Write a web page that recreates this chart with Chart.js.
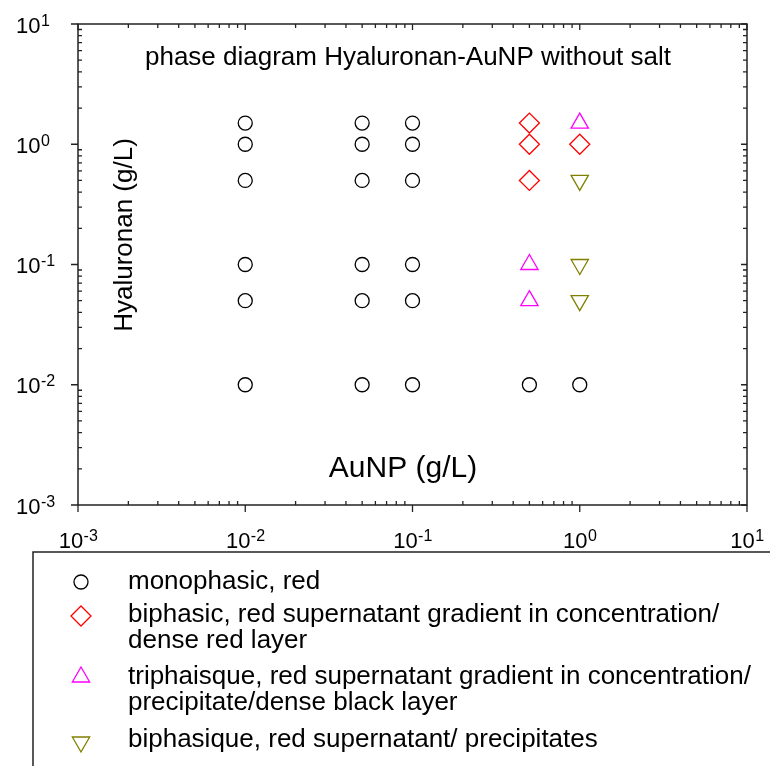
<!DOCTYPE html>
<html>
<head>
<meta charset="utf-8">
<script src="https://cdn.jsdelivr.net/npm/chart.js@4/dist/chart.umd.min.js"></script>
<style>
html,body{margin:0;padding:0;background:#fff;}
#wrap{width:770px;height:766px;position:relative;}
canvas{display:block;}
</style>
</head>
<body>
<div id="wrap"><canvas id="c" width="770" height="766"></canvas></div>
<script>
// ---- data (g/L) ----
const monophasicX = [0.01,0.01,0.01,0.01,0.01,0.01, 0.05,0.05,0.05,0.05,0.05,0.05, 0.1,0.1,0.1,0.1,0.1,0.1, 0.5, 1];
const monophasicY = [1.5,1,0.5,0.1,0.05,0.01, 1.5,1,0.5,0.1,0.05,0.01, 1.5,1,0.5,0.1,0.05,0.01, 0.01, 0.01];
const biphasicX = [0.5,0.5,0.5,1];
const biphasicY = [1.5,1,0.5,1];
const triphasicX = [1,0.5,0.5];
const triphasicY = [1.5,0.1,0.05];
const precipX = [1,1,1];
const precipY = [0.5,0.1,0.05];
const decadeExponents = ['-3','-2','-1','0','1'];
const legendLabels = [
  ['monophasic, red'],
  ['biphasic, red supernatant gradient in concentration/','dense red layer'],
  ['triphaisque, red supernatant gradient in concentration/','precipitate/dense black layer'],
  ['biphasique, red supernatant/ precipitates']
];
const chartTitle = 'phase diagram Hyaluronan-AuNP without salt';
const xTitle = 'AuNP (g/L)';
const yTitle = 'Hyaluronan (g/L)';

const zip = (xs, ys) => xs.map((x, i) => ({x: x, y: ys[i]}));
const FONT = '"Liberation Sans", Arial, sans-serif';

const styles = [
  {pointStyle:'circle', radius:7, rotation:0, color:'#000000'},
  {pointStyle:'rectRot', radius:10, rotation:0, color:'#ff0000'},
  {pointStyle:'triangle', radius:10, rotation:0, color:'#ff00ff'},
  {pointStyle:'triangle', radius:10, rotation:180, color:'#808000'}
];
const series = [zip(monophasicX, monophasicY), zip(biphasicX, biphasicY), zip(triphasicX, triphasicY), zip(precipX, precipY)];

const datasets = series.map((d, i) => ({
  label: legendLabels[i].join(' '),
  data: d,
  pointStyle: styles[i].pointStyle,
  pointRadius: styles[i].radius,
  pointRotation: styles[i].rotation,
  pointBorderColor: styles[i].color,
  pointBackgroundColor: 'rgba(0,0,0,0)',
  pointBorderWidth: 1.3,
  showLine: false,
  clip: false
}));

function drawPow(ctx, exp, x, y, align) {
  ctx.font = '22px ' + FONT;
  const wb = ctx.measureText('10').width;
  ctx.font = '16px ' + FONT;
  const we = ctx.measureText(exp).width;
  let x0 = align === 'center' ? x - (wb + we) / 2 : x;
  ctx.textAlign = 'left';
  ctx.textBaseline = 'alphabetic';
  ctx.font = '22px ' + FONT;
  ctx.fillText('10', x0, y);
  ctx.font = '16px ' + FONT;
  ctx.fillText(exp, x0 + wb + 0.5, y - 7);
}

const decor = {
  id: 'decor',
  afterDraw(chart) {
    const ctx = chart.ctx;
    const a = chart.chartArea;
    const xs = chart.scales.x, ys = chart.scales.y;
    ctx.save();
    ctx.strokeStyle = '#222';
    ctx.fillStyle = '#000';
    ctx.lineWidth = 1.5;
    ctx.strokeRect(a.left, a.top, a.right - a.left, a.bottom - a.top);
    ctx.lineWidth = 1.3;
    const majors = decadeExponents.map(e => Math.pow(10, Number(e)));
    const minors = [];
    for (let i = 0; i < majors.length - 1; i++) for (let k = 2; k <= 9; k++) minors.push(k * majors[i]);
    ctx.beginPath();
    majors.forEach(v => {
      const px = xs.getPixelForValue(v), py = ys.getPixelForValue(v);
      ctx.moveTo(px, a.bottom); ctx.lineTo(px, a.bottom + 7);
      ctx.moveTo(px, a.top); ctx.lineTo(px, a.top + 6);
      ctx.moveTo(a.left, py); ctx.lineTo(a.left - 7, py);
      ctx.moveTo(a.right, py); ctx.lineTo(a.right - 6, py);
    });
    minors.forEach(v => {
      const px = xs.getPixelForValue(v), py = ys.getPixelForValue(v);
      ctx.moveTo(px, a.bottom); ctx.lineTo(px, a.bottom - 4);
      ctx.moveTo(px, a.top); ctx.lineTo(px, a.top + 4);
      ctx.moveTo(a.left, py); ctx.lineTo(a.left + 4, py);
      ctx.moveTo(a.right, py); ctx.lineTo(a.right - 4, py);
    });
    ctx.stroke();

    decadeExponents.forEach((e, i) => {
      const v = majors[i];
      drawPow(ctx, e, xs.getPixelForValue(v), 548, 'center');
      drawPow(ctx, e, 16, ys.getPixelForValue(v) + 8.5, 'left');
    });

    ctx.textAlign = 'center';
    ctx.textBaseline = 'alphabetic';
    ctx.font = '26px ' + FONT;
    ctx.fillText(chartTitle, 408, 65);
    ctx.font = '30px ' + FONT;
    ctx.fillText(xTitle, 403, 477);
    ctx.save();
    ctx.translate(132, 235);
    ctx.rotate(-Math.PI / 2);
    ctx.font = '26px ' + FONT;
    ctx.fillText(yTitle, 0, 0);
    ctx.restore();

    ctx.lineWidth = 1.5;
    ctx.strokeStyle = '#222';
    ctx.strokeRect(33, 552, 800, 400);
    const baselines = [[589], [622, 648], [684, 710], [747]];
    const markerY = [582, 616, 677, 742];
    ctx.textAlign = 'left';
    ctx.font = '26px ' + FONT;
    legendLabels.forEach((lines, i) => {
      lines.forEach((t, j) => ctx.fillText(t, 128, baselines[i][j]));
      const s = styles[i];
      ctx.save();
      ctx.strokeStyle = s.color;
      ctx.fillStyle = 'rgba(0,0,0,0)';
      ctx.lineWidth = 1.3;
      Chart.helpers.drawPoint(ctx, {pointStyle: s.pointStyle, rotation: s.rotation, radius: s.radius, borderWidth: 1.3}, 81, markerY[i]);
      ctx.restore();
    });
    ctx.restore();
  }
};

new Chart(document.getElementById('c'), {
  type: 'scatter',
  data: {datasets: datasets},
  options: {
    responsive: false,
    animation: false,
    devicePixelRatio: 1,
    layout: {padding: {left: 78, right: 23, top: 24, bottom: 261}},
    plugins: {legend: {display: false}, tooltip: {enabled: false}, title: {display: false}},
    scales: {
      x: {type: 'logarithmic', min: 0.001, max: 10, display: false},
      y: {type: 'logarithmic', min: 0.001, max: 10, display: false}
    }
  },
  plugins: [decor]
});
</script>
</body>
</html>
